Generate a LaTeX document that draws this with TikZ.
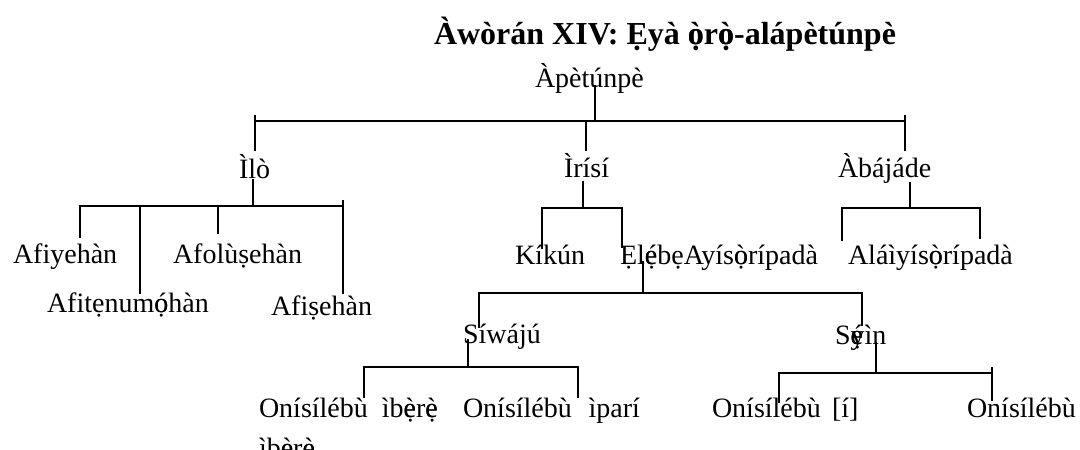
\documentclass[tikz,border=0pt]{standalone}
\usepackage{fontspec}
\setmainfont{Liberation Serif}
\newcommand\ovl[2]{\rlap{#1}#2}
\begin{document}
\begin{tikzpicture}[x=1pt,y=-1pt,
  lbl/.style={inner sep=0pt,outer sep=0pt,anchor=base west,font=\fontsize{28}{33}\selectfont},
  ttl/.style={inner sep=0pt,outer sep=0pt,anchor=base,font=\bfseries\fontsize{32}{38}\selectfont},
  ln/.style={line width=1.6pt,line cap=rect}]
\useasboundingbox (0,0) rectangle (1080,450);
\fill[white] (0,0) rectangle (1080,450);
% texts
\node[ttl] (title) at (665,44) {Àwòrán XIV: Ẹyà \ovl{ò}{ọ}r\ovl{ò}{ọ}-alápètúnpè};
\node[lbl] (apetunpe) at (535,87) {Àpètúnpè};
\node[lbl] (ilo) at (239,178) {Ìlò};
\node[lbl] (irisi) at (564,177) {Ìrísí};
\node[lbl] (abajade) at (838,177) {Àbájáde};
\node[lbl] (afiyehan) at (13,263) {Afiyehàn};
\node[lbl] (afolusehan) at (173,263) {Afolùṣehàn};
\node[lbl] (afitenumohan) at (47,312) {Afitẹnum\ovl{ó}{ọ}hàn};
\node[lbl] (afisehan) at (271,315) {Afiṣehàn};
\node[lbl] (kikun) at (515,264) {Kíkún};
\node[lbl] (elebe) at (620,264) {Ẹl\ovl{é}{ẹ}bẹAyís\ovl{ò}{ọ}rípadà};
\node[lbl] (alaiyi) at (848,264) {Aláìyís\ovl{ò}{ọ}rípadà};
\node[lbl] (siwaju) at (463,343) {Síwájú};
\node[lbl] (seyin) at (835,344) {S\rlap{\ovl{é}{ẹ}}yìn};
\node[lbl] (on1) at (259,417) {Onísílébù\hspace{0.5em}ìb\ovl{è}{ẹ}r\ovl{è}{ẹ}};
\node[lbl] (on1b) at (259,457) {ìb\ovl{è}{ẹ}r\ovl{è}{ẹ}};
\node[lbl] (on2) at (463,417) {Onísílébù\hspace{0.6em}ìparí};
\node[lbl] (on3) at (712,417) {Onísílébù\hspace{0.4em}[í]};
\node[lbl] (on4) at (967,417) {Onísílébù};
% coordinates
\coordinate (a0) at (595,86);
\coordinate (a1) at (595,121);
\coordinate (t1) at (255,116);
\coordinate (t2) at (905,116);
\coordinate (hL) at (255,121);
\coordinate (hR) at (905,121);
\coordinate (hM) at (586,121);
\coordinate (iloT) at (255,150);
\coordinate (irisiT) at (586,150);
\coordinate (abajadeT) at (905,150);
% Ilo
\coordinate (i0) at (253,180);
\coordinate (i1) at (253,206);
\coordinate (iL) at (80,206);
\coordinate (iR) at (343,206);
\coordinate (iR0) at (343,201);
\coordinate (iA) at (140,206);
\coordinate (iB) at (218,206);
\coordinate (c1) at (80,237);
\coordinate (c2) at (140,293);
\coordinate (c3) at (218,233);
\coordinate (c4) at (343,293);
% Irisi
\coordinate (r0) at (583,182);
\coordinate (r1) at (583,208);
\coordinate (rL) at (542,208);
\coordinate (rR) at (622,208);
\coordinate (k1) at (542,248);
\coordinate (k2) at (622,247);
% Abajade
\coordinate (b0) at (910,183);
\coordinate (b1) at (910,208);
\coordinate (bL) at (842,208);
\coordinate (bR) at (980,208);
\coordinate (d1) at (842,240);
\coordinate (d2) at (980,238);
% Elebe
\coordinate (e0) at (643,262);
\coordinate (e1) at (643,293);
\coordinate (eL) at (479,293);
\coordinate (eR) at (862,293);
\coordinate (f1) at (479,327);
\coordinate (f2) at (862,325);
% Siwaju
\coordinate (s0) at (468,340);
\coordinate (s1) at (468,367);
\coordinate (sL) at (364,367);
\coordinate (sR) at (578,367);
\coordinate (g1) at (364,397);
\coordinate (g2) at (578,397);
% Seyin
\coordinate (y0) at (876,343);
\coordinate (y1) at (876,373);
\coordinate (yL) at (779,373);
\coordinate (yR) at (992,373);
\coordinate (yR0) at (992,368);
\coordinate (h1) at (779,402);
\coordinate (h2) at (992,400);
% connectors
\draw[ln] (a0) -- (a1);
\draw[ln] (hL) -- (hR);
\draw[ln] (t1) -- (iloT);
\draw[ln] (t2) -- (abajadeT);
\draw[ln] (hM) -- (irisiT);
\draw[ln] (i0) -- (i1);
\draw[ln] (iL) -- (iR);
\draw[ln] (iL) -- (c1);
\draw[ln] (iA) -- (c2);
\draw[ln] (iB) -- (c3);
\draw[ln] (iR0) -- (c4);
\draw[ln] (r0) -- (r1);
\draw[ln] (rL) -- (rR);
\draw[ln] (rL) -- (k1);
\draw[ln] (rR) -- (k2);
\draw[ln] (b0) -- (b1);
\draw[ln] (bL) -- (bR);
\draw[ln] (bL) -- (d1);
\draw[ln] (bR) -- (d2);
\draw[ln] (e0) -- (e1);
\draw[ln] (eL) -- (eR);
\draw[ln] (eL) -- (f1);
\draw[ln] (eR) -- (f2);
\draw[ln] (s0) -- (s1);
\draw[ln] (sL) -- (sR);
\draw[ln] (sL) -- (g1);
\draw[ln] (sR) -- (g2);
\draw[ln] (y0) -- (y1);
\draw[ln] (yL) -- (yR);
\draw[ln] (yL) -- (h1);
\draw[ln] (yR0) -- (h2);
\end{tikzpicture}
\end{document}
